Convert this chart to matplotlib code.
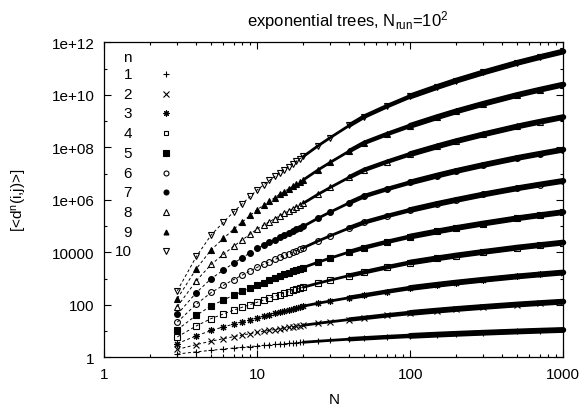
import numpy as np
import matplotlib
matplotlib.use("Agg")
import matplotlib.pyplot as plt
from matplotlib.ticker import FixedLocator, FixedFormatter, LogLocator, NullFormatter

plt.rcParams['font.family'] = ['Liberation Sans', 'DejaVu Sans']
plt.rcParams['mathtext.fontset'] = 'custom'
plt.rcParams['mathtext.rm'] = 'Liberation Sans'
plt.rcParams['mathtext.it'] = 'Liberation Sans:italic'

# tree size N
N = [3, 4, 5, 6, 7, 8, 9, 10, 11, 12, 13, 14, 15, 16, 17, 18, 19, 20,
     25, 30, 40, 50, 70, 100, 150, 200, 300, 500, 700, 1000]

# log10 of [<d^n(i,j)>], one list per moment n
log_d1 = [.125, .207, .267, .314, .352, .383, .410, .434, .455, .473, .490, .505,
          .518, .531, .543, .554, .564, .573,
          .613, .644, .690, .723, .770, .816, .864, .895, .936, .984, 1.013, 1.041]
log_d2 = [.301, .485, .615, .709, .786, .848, .902, .95, .990, 1.026, 1.058, 1.088,
          1.114, 1.138, 1.161, 1.182, 1.202, 1.22,
          1.296, 1.352, 1.438, 1.50, 1.596, 1.69, 1.780, 1.841, 1.919, 2.011, 2.065, 2.12]
log_d3 = [.523, .820, 1.023, 1.157, 1.266, 1.355, 1.431, 1.50, 1.566, 1.626, 1.680, 1.730,
          1.773, 1.814, 1.851, 1.887, 1.920, 1.95,
          2.061, 2.144, 2.270, 2.36, 2.501, 2.64, 2.764, 2.847, 2.954, 3.081, 3.155, 3.23]
log_d4 = [.778, 1.197, 1.476, 1.651, 1.794, 1.910, 2.010, 2.10, 2.184, 2.260, 2.328, 2.391,
          2.446, 2.498, 2.545, 2.591, 2.632, 2.67,
          2.824, 2.940, 3.115, 3.24, 3.427, 3.61, 3.770, 3.877, 4.015, 4.178, 4.273, 4.37]
log_d5 = [1.054, 1.601, 1.961, 2.182, 2.363, 2.509, 2.636, 2.75, 2.848, 2.938, 3.018, 3.092,
          3.157, 3.218, 3.273, 3.327, 3.376, 3.42,
          3.625, 3.779, 4.013, 4.18, 4.392, 4.60, 4.795, 4.926, 5.096, 5.295, 5.412, 5.53]
log_d6 = [1.342, 2.027, 2.470, 2.739, 2.960, 3.137, 3.292, 3.43, 3.539, 3.637, 3.726, 3.807,
          3.879, 3.947, 4.007, 4.067, 4.121, 4.17,
          4.432, 4.629, 4.927, 5.14, 5.377, 5.61, 5.843, 5.996, 6.202, 6.439, 6.579, 6.72]
log_d7 = [1.637, 2.467, 2.999, 3.321, 3.586, 3.799, 3.984, 4.15, 4.273, 4.385, 4.486, 4.578,
          4.660, 4.736, 4.805, 4.873, 4.935, 4.99,
          5.301, 5.534, 5.887, 6.14, 6.403, 6.66, 6.923, 7.099, 7.326, 7.594, 7.751, 7.91]
log_d8 = [1.934, 2.919, 3.542, 3.919, 4.229, 4.479, 4.696, 4.89, 5.034, 5.164, 5.282, 5.390,
          5.485, 5.574, 5.654, 5.734, 5.805, 5.87,
          6.213, 6.471, 6.861, 7.14, 7.443, 7.74, 8.036, 8.235, 8.492, 8.793, 8.971, 9.15]
log_d9 = [2.234, 3.378, 4.098, 4.527, 4.879, 5.163, 5.409, 5.63, 5.796, 5.946, 6.082, 6.206,
          6.316, 6.419, 6.511, 6.603, 6.685, 6.76,
          7.141, 7.427, 7.860, 8.17, 8.498, 8.82, 9.150, 9.371, 9.657, 9.993, 10.191, 10.39]
log_d10 = [2.534, 3.843, 4.664, 5.144, 5.539, 5.857, 6.133, 6.38, 6.567, 6.736, 6.888, 7.028,
           7.151, 7.266, 7.371, 7.473, 7.566, 7.65,
           8.060, 8.369, 8.836, 9.17, 9.559, 9.94, 10.299, 10.540, 10.851, 11.217, 11.433, 11.65]

moments = [1, 2, 3, 4, 5, 6, 7, 8, 9, 10]
series = [log_d1, log_d2, log_d3, log_d4, log_d5, log_d6, log_d7, log_d8, log_d9, log_d10]

# gnuplot point types 1..10
markers = ['+', 'x', (8, 2, 0), 's', 's', 'o', 'o', '^', '^', 'v']
filled = [True, True, True, False, True, False, True, False, True, False]
sizes = [5, 4.5, 5, 4.2, 4.5, 4.2, 4.2, 4.8, 4.2, 4.8]

yticks = [1, 1e2, 1e4, 1e6, 1e8, 1e10, 1e12]
ytick_labels = ['1', '100', '10000', '1e+06', '1e+08', '1e+10', '1e+12']
xticks = [1, 10, 100, 1000]
xtick_labels = ['1', '10', '100', '1000']

fig = plt.figure(figsize=(5.84, 4.10), dpi=100)
ax = fig.add_axes([0.1786, 0.1261, 0.786, 0.7683])

x = np.array(N, dtype=float)
for n, logs, m, f, s in zip(moments, series, markers, filled, sizes):
    y = 10 ** np.array(logs)
    # points get dense at large N and merge into a solid band
    for start, width in [(20, 2.0), (35, 3.2), (80, 4.2)]:
        band = x >= start
        ax.plot(x[band], y[band], '-', color='black', lw=width,
                solid_capstyle='round', clip_on=False, zorder=2)
    ax.plot(x, y, linestyle=(0, (3, 2.5)), lw=0.7, color='black',
            marker=m, ms=s, mew=0.8, mec='black',
            mfc='black' if f else 'none', zorder=3)

    # key, gnuplot style: right aligned number then point
    ky = 0.899 - 0.0625 * (n - 1)
    ax.text(0.0603, ky, str(n), transform=ax.transAxes, ha='right', va='center',
            fontsize=11)
    ax.plot([0.1344], [ky], transform=ax.transAxes, marker=m, ms=s * 0.85,
            mew=0.8, mec='black', mfc='black' if f else 'none',
            linestyle='none', clip_on=False)
ax.text(0.0603, 0.953, 'n', transform=ax.transAxes, ha='right', va='center',
        fontsize=11)

ax.set_xscale('log')
ax.set_yscale('log')
ax.set_xlim(1, 1000)
ax.set_ylim(1, 1e12)

ax.yaxis.set_major_locator(FixedLocator(yticks))
ax.yaxis.set_major_formatter(FixedFormatter(ytick_labels))
ax.yaxis.set_minor_locator(FixedLocator([1e1, 1e3, 1e5, 1e7, 1e9, 1e11]))
ax.yaxis.set_minor_formatter(NullFormatter())
ax.xaxis.set_major_locator(FixedLocator(xticks))
ax.xaxis.set_major_formatter(FixedFormatter(xtick_labels))
ax.xaxis.set_minor_locator(LogLocator(base=10, subs=np.arange(2, 10)))
ax.xaxis.set_minor_formatter(NullFormatter())

ax.tick_params(which='both', direction='in', top=True, right=True,
               width=0.8, labelsize=11, colors='black')
ax.tick_params(which='major', length=5, pad=7)
ax.tick_params(which='minor', length=2.5)
for sp in ax.spines.values():
    sp.set_linewidth(0.9)

ax.set_xlabel('N', fontsize=11)
ax.xaxis.label.set_va('center')
ax.xaxis.set_label_coords(0.5, -0.132)
ax.set_ylabel(r'[<d$^{\mathrm{n}}$(i,j)>]', fontsize=11)
ax.yaxis.label.set_va('center')
ax.yaxis.set_label_coords(-0.184, 0.5)

fig.text(348 / 584, 1 - 21 / 410,
         r'exponential trees, N$_{\mathrm{run}}$=10$^{\mathrm{2}}$',
         ha='center', va='center', fontsize=12)

fig.savefig('out.png', dpi=100)
